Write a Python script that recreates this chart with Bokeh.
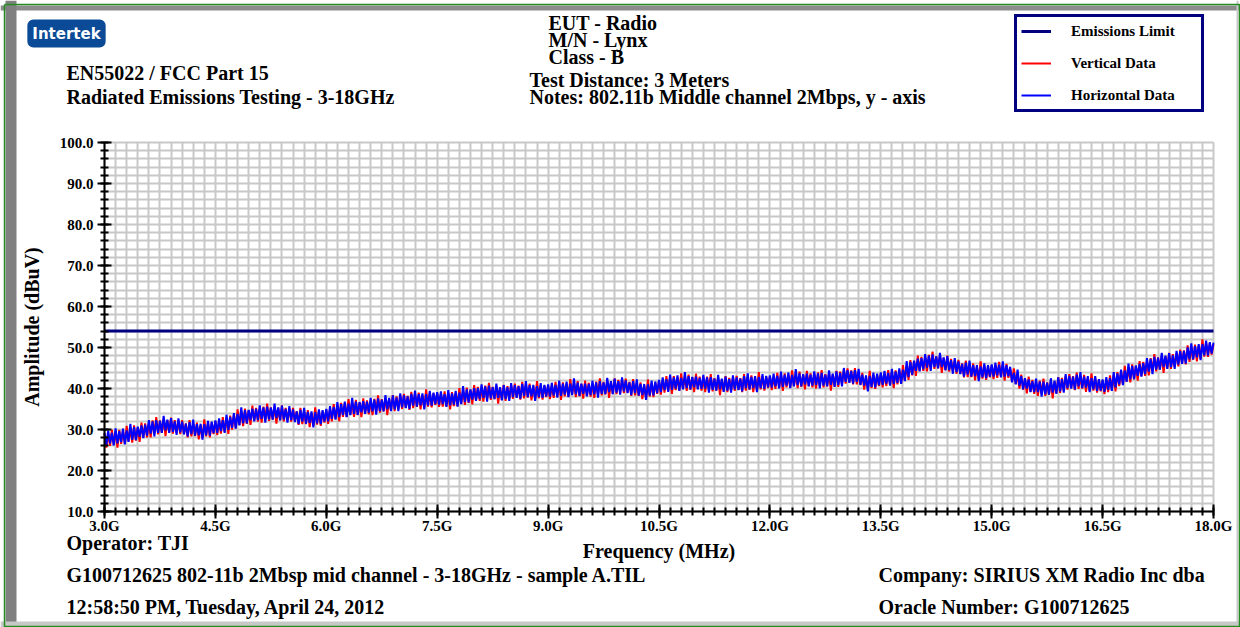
from bokeh.plotting import figure
from bokeh.models import (Range1d, SingleIntervalTicker, PrintfTickFormatter, Label,
                          Legend, LegendItem, Grid, Span)
from bokeh.embed import file_html
from bokeh.resources import INLINE

# ---------------- data ----------------
F_START_GHZ = 3.0
F_STEP_GHZ = 0.025

HORIZONTAL_DBUV = [
    29.2, 26.2, 29.7, 26.6, 29.2, 26.1, 30.3, 26.6, 29.6, 26.9, 30.2, 26.4, 29.8, 27.0, 31.4, 27.5, 30.6, 27.4, 30.7, 28.2,
    31.0, 27.9, 31.2, 28.5, 32.3, 29.0, 32.0, 28.3, 32.3, 29.2, 32.1, 29.2, 33.3, 29.8, 32.4, 29.2, 32.8, 29.4, 32.0, 28.7,
    32.7, 29.3, 31.9, 28.8, 31.4, 28.3, 31.8, 28.9, 32.4, 28.5, 31.3, 28.6, 31.4, 27.5, 31.3, 28.6, 32.1, 28.5, 31.9, 29.1,
    32.2, 29.2, 32.7, 29.6, 32.3, 29.2, 33.6, 29.9, 33.1, 30.4, 34.0, 30.2, 33.8, 31.0, 35.4, 31.5, 34.7, 31.5, 34.8, 32.3,
    35.1, 32.0, 35.0, 32.3, 35.9, 32.6, 35.4, 31.7, 35.6, 32.5, 35.3, 32.4, 36.3, 32.8, 35.4, 32.2, 35.8, 32.4, 35.0, 31.7,
    35.7, 32.3, 34.9, 31.8, 34.4, 31.3, 34.8, 31.9, 35.3, 31.4, 34.3, 31.6, 34.4, 30.5, 34.2, 31.5, 34.9, 31.3, 34.7, 31.9,
    35.0, 32.0, 35.7, 32.6, 35.5, 32.4, 36.7, 33.0, 36.2, 33.5, 36.8, 33.0, 36.3, 33.5, 37.7, 33.8, 36.8, 33.6, 36.7, 34.2,
    36.9, 33.8, 36.8, 34.1, 37.7, 34.4, 37.3, 33.6, 37.6, 34.5, 37.3, 34.4, 38.4, 34.9, 37.7, 34.5, 38.3, 34.9, 37.8, 34.5,
    38.8, 35.4, 38.3, 35.2, 38.1, 35.0, 38.7, 35.8, 39.5, 35.6, 38.6, 35.9, 38.8, 34.9, 38.6, 35.9, 39.4, 35.8, 39.0, 36.2,
    39.1, 36.1, 39.3, 36.2, 38.6, 35.5, 39.6, 35.9, 38.8, 36.1, 39.4, 35.6, 39.0, 36.2, 40.6, 36.7, 39.8, 36.6, 39.8, 37.3,
    40.1, 37.0, 40.1, 37.4, 41.0, 37.7, 40.5, 36.8, 40.7, 37.6, 40.3, 37.4, 41.2, 37.7, 40.3, 37.1, 40.8, 37.4, 40.3, 37.0,
    41.3, 37.9, 40.8, 37.7, 40.6, 37.5, 41.1, 38.2, 41.8, 37.9, 40.8, 38.1, 40.9, 37.0, 40.6, 37.9, 41.3, 37.7, 40.9, 38.1,
    41.0, 38.0, 41.4, 38.3, 40.9, 37.8, 41.9, 38.2, 41.2, 38.5, 41.7, 37.9, 41.2, 38.4, 42.5, 38.6, 41.4, 38.2, 41.2, 38.7,
    41.2, 38.1, 41.1, 38.4, 41.9, 38.6, 41.5, 37.8, 41.8, 38.7, 41.5, 38.6, 42.6, 39.1, 41.8, 38.6, 42.4, 39.0, 41.8, 38.5,
    42.7, 39.3, 42.0, 38.9, 41.5, 38.4, 41.8, 38.9, 42.2, 38.3, 41.1, 38.4, 41.1, 37.2, 41.0, 38.3, 41.9, 38.3, 41.7, 38.9,
    42.1, 39.1, 42.7, 39.6, 42.3, 39.2, 43.4, 39.7, 42.7, 40.0, 43.2, 39.4, 42.6, 39.8, 44.0, 40.1, 43.0, 39.8, 42.8, 40.3,
    42.9, 39.8, 42.6, 39.9, 43.3, 40.0, 42.7, 39.0, 42.8, 39.7, 42.4, 39.5, 43.3, 39.8, 42.4, 39.2, 42.9, 39.5, 42.3, 39.0,
    43.2, 39.8, 42.7, 39.6, 42.4, 39.3, 43.0, 40.1, 43.7, 39.8, 42.8, 40.1, 43.0, 39.1, 42.8, 40.1, 43.5, 39.9, 43.1, 40.3,
    43.2, 40.2, 43.6, 40.5, 43.1, 40.0, 44.1, 40.4, 43.4, 40.7, 43.9, 40.1, 43.3, 40.5, 44.7, 40.8, 43.7, 40.5, 43.5, 41.0,
    43.6, 40.5, 43.4, 40.7, 44.2, 40.9, 43.7, 40.0, 43.8, 40.7, 43.4, 40.5, 44.4, 40.9, 43.6, 40.4, 44.2, 40.8, 43.8, 40.5,
    45.0, 41.6, 44.5, 41.4, 44.3, 41.2, 44.5, 41.6, 44.8, 40.9, 43.4, 40.7, 43.2, 39.3, 43.1, 40.4, 43.9, 40.3, 43.6, 40.8,
    43.9, 40.9, 44.3, 41.2, 43.8, 40.7, 44.8, 41.1, 44.1, 41.4, 44.9, 41.1, 44.6, 41.8, 46.7, 42.8, 46.5, 43.3, 46.8, 44.3,
    47.3, 44.2, 47.4, 44.7, 48.4, 45.1, 48.0, 44.3, 48.3, 45.2, 47.8, 44.9, 48.7, 45.2, 47.6, 44.4, 47.9, 44.5, 46.9, 43.6,
    47.4, 44.0, 46.6, 43.5, 46.0, 42.9, 46.3, 43.4, 46.8, 42.9, 45.7, 43.0, 45.7, 41.8, 45.4, 42.7, 46.1, 42.5, 45.7, 42.9,
    45.9, 42.9, 46.3, 43.2, 45.8, 42.7, 46.6, 42.9, 45.7, 43.0, 45.3, 41.5, 43.8, 41.0, 44.6, 40.7, 43.0, 39.8, 42.5, 40.0,
    42.2, 39.1, 41.8, 39.1, 42.4, 39.1, 41.7, 38.0, 41.7, 38.6, 41.4, 38.5, 42.5, 39.0, 41.9, 38.7, 42.7, 39.3, 42.3, 39.0,
    43.5, 40.1, 43.1, 40.0, 42.9, 39.8, 43.4, 40.5, 44.0, 40.1, 42.9, 40.2, 43.0, 39.1, 42.5, 39.8, 43.0, 39.4, 42.3, 39.5,
    42.2, 39.2, 42.8, 39.7, 42.5, 39.4, 44.0, 40.3, 43.7, 41.0, 44.6, 40.8, 44.4, 41.6, 46.1, 42.2, 45.5, 42.3, 45.6, 43.1,
    46.0, 42.9, 46.2, 43.5, 47.4, 44.1, 47.2, 43.5, 47.7, 44.6, 47.5, 44.6, 48.7, 45.2, 48.0, 44.8, 48.6, 45.2, 48.1, 44.8,
    49.2, 45.8, 49.1, 46.0, 49.2, 46.1, 50.0, 47.1, 51.0, 47.1, 50.3, 47.6, 50.8, 46.9, 50.8, 48.1, 51.7, 48.1, 51.3, 48.5,
    51.2,
]

VERTICAL_DBUV = [
    29.0, 25.6, 29.0, 26.0, 29.9, 26.3, 29.6, 25.6, 29.9, 26.5, 29.7, 26.5, 30.9, 27.1, 30.3, 26.8, 31.0, 27.3, 30.6, 27.0,
    31.7, 28.0, 31.5, 28.1, 31.5, 28.1, 32.2, 29.0, 33.0, 28.8, 32.2, 29.2, 32.6, 28.4, 32.3, 29.3, 32.9, 29.0, 32.3, 29.2,
    32.2, 28.9, 32.3, 28.9, 31.5, 28.1, 32.3, 28.3, 31.4, 28.4, 31.7, 27.6, 31.0, 27.9, 32.5, 28.3, 31.6, 28.1, 31.7, 28.9,
    32.0, 28.6, 32.0, 29.0, 33.0, 29.4, 32.9, 28.9, 33.4, 30.0, 33.5, 30.3, 34.9, 31.1, 34.3, 30.8, 35.1, 31.4, 34.7, 31.1,
    35.8, 32.1, 35.3, 31.9, 35.1, 31.7, 35.6, 32.4, 36.3, 32.1, 35.4, 32.4, 35.6, 31.4, 35.3, 32.3, 35.9, 32.0, 35.3, 32.2,
    35.2, 31.9, 35.3, 31.9, 34.5, 31.1, 35.3, 31.3, 34.3, 31.3, 34.7, 30.6, 34.0, 30.9, 35.4, 31.2, 34.4, 30.9, 34.5, 31.7,
    34.8, 31.4, 35.0, 32.0, 36.2, 32.6, 36.0, 32.0, 36.5, 33.1, 36.3, 33.1, 37.4, 33.6, 36.6, 33.1, 37.2, 33.5, 36.6, 33.0,
    37.6, 33.9, 37.1, 33.7, 36.9, 33.5, 37.5, 34.3, 38.3, 34.1, 37.4, 34.4, 37.7, 33.5, 37.6, 34.6, 38.4, 34.5, 38.1, 35.0,
    38.3, 35.0, 38.7, 35.3, 38.2, 34.8, 39.2, 35.2, 38.5, 35.5, 39.0, 34.9, 38.4, 35.3, 39.8, 35.6, 38.9, 35.4, 38.8, 36.0,
    38.9, 35.5, 38.6, 35.6, 39.3, 35.7, 38.9, 34.9, 39.1, 35.7, 38.9, 35.7, 40.1, 36.3, 39.5, 36.0, 40.2, 36.5, 39.7, 36.1,
    40.8, 37.1, 40.4, 37.0, 40.2, 36.8, 40.7, 37.5, 41.4, 37.2, 40.4, 37.4, 40.5, 36.3, 40.2, 37.2, 40.9, 37.0, 40.6, 37.5,
    40.8, 37.5, 41.2, 37.8, 40.7, 37.3, 41.6, 37.6, 40.8, 37.8, 41.2, 37.1, 40.5, 37.4, 41.8, 37.6, 40.8, 37.3, 40.7, 37.9,
    40.8, 37.4, 40.7, 37.7, 41.6, 38.0, 41.2, 37.2, 41.5, 38.1, 41.2, 38.0, 42.3, 38.5, 41.4, 37.9, 41.8, 38.1, 41.1, 37.5,
    41.9, 38.2, 41.4, 38.0, 41.1, 37.7, 41.7, 38.5, 42.5, 38.3, 41.6, 38.6, 41.9, 37.7, 41.7, 38.7, 42.5, 38.6, 42.1, 39.0,
    42.2, 38.9, 42.4, 39.0, 41.6, 38.2, 42.3, 38.3, 41.2, 38.2, 41.5, 37.4, 40.7, 37.6, 42.2, 38.0, 41.4, 37.9, 41.5, 38.7,
    41.9, 38.5, 42.0, 39.0, 43.0, 39.4, 42.7, 38.7, 43.0, 39.6, 42.7, 39.5, 43.7, 39.9, 42.9, 39.4, 43.4, 39.7, 42.7, 39.1,
    43.6, 39.9, 42.9, 39.5, 42.5, 39.1, 42.9, 39.7, 43.5, 39.3, 42.5, 39.5, 42.6, 38.4, 42.3, 39.3, 43.0, 39.1, 42.6, 39.5,
    42.7, 39.4, 43.1, 39.7, 42.5, 39.1, 43.5, 39.5, 42.7, 39.7, 43.2, 39.1, 42.6, 39.5, 44.0, 39.8, 43.0, 39.5, 42.9, 40.1,
    43.0, 39.6, 42.9, 39.9, 43.8, 40.2, 43.4, 39.4, 43.7, 40.3, 43.4, 40.2, 44.4, 40.6, 43.6, 40.1, 44.1, 40.4, 43.4, 39.8,
    44.3, 40.6, 43.7, 40.3, 43.4, 40.0, 43.9, 40.7, 44.5, 40.3, 43.5, 40.5, 43.7, 39.5, 43.5, 40.5, 44.3, 40.4, 44.1, 41.0,
    44.5, 41.2, 44.9, 41.5, 44.4, 41.0, 45.0, 41.0, 43.8, 40.8, 43.8, 39.7, 42.8, 39.7, 44.3, 40.1, 43.4, 39.9, 43.4, 40.6,
    43.7, 40.3, 43.6, 40.6, 44.5, 40.9, 44.1, 40.1, 44.4, 41.0, 44.4, 41.2, 45.7, 41.9, 45.6, 42.1, 46.9, 43.2, 46.7, 43.1,
    48.0, 44.3, 47.7, 44.3, 47.6, 44.2, 48.2, 45.0, 49.0, 44.8, 47.9, 44.9, 48.0, 43.8, 47.5, 44.5, 48.0, 44.1, 47.2, 44.1,
    46.9, 43.6, 47.0, 43.6, 46.1, 42.7, 46.8, 42.8, 45.8, 42.8, 46.1, 42.0, 45.3, 42.2, 46.6, 42.4, 45.6, 42.1, 45.5, 42.7,
    45.7, 42.3, 45.6, 42.6, 46.5, 42.9, 45.9, 41.9, 46.0, 42.6, 44.8, 41.6, 44.9, 41.1, 43.5, 40.0, 43.4, 39.7, 42.4, 38.8,
    42.9, 39.2, 42.1, 38.7, 41.6, 38.2, 41.9, 38.7, 42.4, 38.2, 41.5, 38.5, 41.8, 37.6, 41.8, 38.8, 42.8, 38.9, 42.6, 39.5,
    43.0, 39.7, 43.5, 40.1, 43.0, 39.6, 43.9, 39.9, 43.0, 40.0, 43.3, 39.2, 42.6, 39.5, 43.7, 39.5, 42.5, 39.0, 42.1, 39.3,
    42.0, 38.6, 42.1, 39.1, 43.2, 39.6, 43.3, 39.3, 44.0, 40.6, 44.1, 40.9, 45.5, 41.7, 45.0, 41.5, 45.9, 42.2, 45.5, 41.9,
    46.7, 43.0, 46.5, 43.1, 46.6, 43.2, 47.4, 44.2, 48.4, 44.2, 47.6, 44.6, 48.0, 43.8, 47.9, 44.9, 48.7, 44.8, 48.4, 45.3,
    48.7, 45.4, 49.5, 46.1, 49.3, 45.9, 50.5, 46.5, 50.0, 47.0, 50.7, 46.6, 50.4, 47.3, 52.0, 47.8, 51.2, 47.7, 51.1, 48.3,
    50.8,
]

LIMIT_FREQ_GHZ = [3.0, 18.0]
LIMIT_DBUV = [54.0, 54.0]

FREQ_H = [round(F_START_GHZ + i * F_STEP_GHZ, 4) for i in range(len(HORIZONTAL_DBUV))]
FREQ_V = [round(F_START_GHZ + i * F_STEP_GHZ, 4) for i in range(len(VERTICAL_DBUV))]

X_MIN, X_MAX = 3.0, 18.0
Y_MIN, Y_MAX = 10.0, 100.0

TITLE_LEFT = ["EN55022 / FCC Part 15", "Radiated Emissions Testing - 3-18GHz"]
TITLE_MID = ["EUT - Radio", "M/N - Lynx", "Class - B"]
TITLE_MID2 = ["Test Distance: 3 Meters", "Notes: 802.11b Middle channel 2Mbps, y - axis"]
FOOT_LEFT = ["Operator: TJI",
             "G100712625 802-11b 2Mbsp mid channel - 3-18GHz - sample A.TIL",
             "12:58:50 PM, Tuesday, April 24, 2012"]
FOOT_RIGHT = ["Company: SIRIUS XM Radio Inc dba", "Oracle Number: G100712625"]

# ---------------- layout geometry (canvas px) ----------------
SERIF = "Liberation Serif"
W, H = 1240, 627
PL, PR, PT, PB = 104, 1213, 142, 511     # plot area edges
kx = (PR - PL) / (X_MAX - X_MIN)
ky = (PB - PT) / (Y_MAX - Y_MIN)


def cx(px):  # canvas px -> data x (frame covers the whole canvas)
    return X_MIN + (px - PL) / kx


def cy(py):  # canvas px (from top) -> data y
    return Y_MIN + (PB - py) / ky


p = figure(width=W, height=H, output_backend="svg", toolbar_location=None,
           x_range=Range1d(cx(0), cx(W)), y_range=Range1d(cy(H), cy(0)),
           min_border=0)
p.outline_line_color = None
p.background_fill_color = "white"
p.border_fill_color = "white"

# grid
p.xgrid.ticker = SingleIntervalTicker(interval=0.15)
p.ygrid.ticker = SingleIntervalTicker(interval=2)
p.xgrid.bounds = (X_MIN, X_MAX)
p.ygrid.bounds = (Y_MIN, Y_MAX)
has_cross = "cross_bounds" in Grid.properties()
if has_cross:
    p.xgrid.cross_bounds = (Y_MIN, Y_MAX)
    p.ygrid.cross_bounds = (X_MIN, X_MAX)
for g in (p.xgrid[0], p.ygrid[0]):
    g.grid_line_color = "#c8c8c8"
    g.grid_line_width = 2

# axes drawn at the plot-area edges
p.xaxis.fixed_location = Y_MIN
p.yaxis.fixed_location = X_MIN
p.xaxis.bounds = (X_MIN, X_MAX)
p.yaxis.bounds = (Y_MIN, Y_MAX)
p.xaxis.ticker = SingleIntervalTicker(interval=1.5, num_minor_ticks=10)
p.yaxis.ticker = SingleIntervalTicker(interval=10, num_minor_ticks=5)
p.xaxis.formatter = PrintfTickFormatter(format="%.1fG")
p.yaxis.formatter = PrintfTickFormatter(format="%.1f")
for ax in (p.xaxis[0], p.yaxis[0]):
    ax.axis_line_color = "black"
    ax.axis_line_width = 2
    ax.major_tick_line_color = "black"
    ax.major_tick_line_width = 2
    ax.minor_tick_line_color = "black"
    ax.minor_tick_line_width = 2
    ax.major_tick_in = 7
    ax.major_tick_out = 7
    ax.minor_tick_in = 4
    ax.minor_tick_out = 4
    ax.major_label_text_font = SERIF
    ax.major_label_text_font_style = "bold"
    ax.major_label_text_font_size = "15px"
    ax.major_label_text_color = "black"
    ax.axis_label_text_font = SERIF
    ax.axis_label_text_font_style = "bold"
    ax.axis_label_text_font_size = "20px"
    ax.axis_label_text_color = "black"
p.yaxis.axis_label = "Amplitude (dBuV)"
p.xaxis.axis_label = "Frequency (MHz)"
p.yaxis.major_label_standoff = 4
p.yaxis.axis_label_standoff = 14
p.xaxis.major_label_standoff = -1
p.xaxis.axis_label_standoff = 3

if not has_cross:
    # keep the grid inside the plot area
    for (l, r, t, b) in [(0, W, 0, PT - 1), (0, W, PB + 1, H), (0, PL - 1, 0, H), (PR + 1, W, 0, H)]:
        p.quad(left=cx(l), right=cx(r), top=cy(t), bottom=cy(b), fill_color="white",
               line_color=None, level="underlay")

# data
r_v = p.line(FREQ_V, VERTICAL_DBUV, line_color="#ff0000", line_width=2)
r_h = p.line(FREQ_H, HORIZONTAL_DBUV, line_color="#0000ff", line_width=2)
r_lim = p.line(LIMIT_FREQ_GHZ, LIMIT_DBUV, line_color="#000080", line_width=3)

legend = Legend(items=[LegendItem(label="Emissions Limit", renderers=[r_lim]),
                       LegendItem(label="Vertical Data", renderers=[r_v]),
                       LegendItem(label="Horizontal Data", renderers=[r_h])],
                location=(1014, H - 112), orientation="vertical",
                padding=4, spacing=12, margin=0,
                glyph_width=30, glyph_height=20, label_height=20, label_width=126,
                label_standoff=20,
                label_text_font=SERIF, label_text_font_style="bold",
                label_text_font_size="15px", label_text_color="black",
                border_line_color="#000080", border_line_width=3, border_line_alpha=1.0,
                background_fill_color="white", background_fill_alpha=1.0)
p.add_layout(legend)

# ---------------- page frame (sunken bevel) ----------------
for loc, dim, color, width in [(cy(7.5), "width", "#8c8c8c", 5),      # top
                               (cx(10.5), "height", "#808080", 11),   # left
                               (cy(624), "width", "#c8c8c8", 6),      # bottom
                               (cx(1237), "height", "#c8c8c8", 2)]:   # right
    p.add_layout(Span(location=loc, dimension=dim, line_color=color, line_width=width,
                      line_alpha=1.0))
p.line([cx(a) for a in (4, 1239, 1239, 4, 4)], [cy(b) for b in (4, 4, 626, 626, 4)],
       line_color="#228b22", line_width=1.5, level="overlay")

# logo
p.add_layout(Label(x=66, y=33, x_units="canvas", y_units="canvas", text="Intertek",
                   text_font="DejaVu Sans", text_font_style="bold", text_font_size="15px",
                   text_color="white", text_align="center", text_baseline="middle",
                   background_fill_color="#0b4a96", background_fill_alpha=1.0,
                   border_radius=6, padding=5))


def text(x, y, s, align="left"):
    p.add_layout(Label(x=x, y=y, x_units="canvas", y_units="canvas", text=s,
                       text_font=SERIF, text_font_style="bold", text_font_size="20px",
                       text_color="black", text_align=align, text_baseline="alphabetic"))

text(66, 72, TITLE_LEFT[0])
text(66, 96, TITLE_LEFT[1])
for i, s in enumerate(TITLE_MID):
    text(548, 22 + i * 17, s)
text(529, 79, TITLE_MID2[0])
text(529, 96, TITLE_MID2[1])
text(66, 542, FOOT_LEFT[0])
text(66, 574, FOOT_LEFT[1])
text(66, 606, FOOT_LEFT[2])
text(878, 574, FOOT_RIGHT[0])
text(878, 606, FOOT_RIGHT[1])

open("out.html", "w").write(file_html(p, INLINE))
